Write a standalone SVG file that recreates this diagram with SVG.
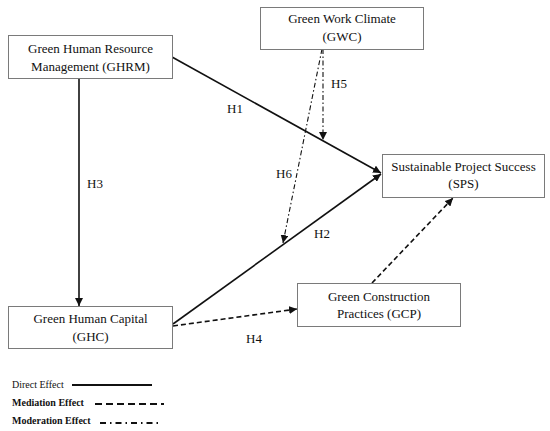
<svg xmlns="http://www.w3.org/2000/svg" width="550" height="431" viewBox="0 0 550 431">
<style>
  .box { fill: #ffffff; stroke: #7a7a7a; stroke-width: 1; }
  .t { font-family: "Liberation Serif", "Times New Roman", serif; font-size: 13px; fill: #111; text-anchor: middle; }
  .lbl { font-family: "Liberation Serif", "Times New Roman", serif; font-size: 13px; fill: #111; text-anchor: middle; }
  .leg { font-family: "Liberation Serif", "Times New Roman", serif; font-size: 10px; fill: #111; }
  .legb { font-family: "Liberation Serif", "Times New Roman", serif; font-size: 10px; fill: #111; font-weight: bold; }
  .direct { stroke: #111; stroke-width: 1.6; fill: none; }
  .med { stroke: #111; stroke-width: 1.6; fill: none; stroke-dasharray: 5 3; }
  .mod { stroke: #111; stroke-width: 1.1; fill: none; stroke-dasharray: 5 2.5 1.5 2.5; }
</style>
<defs>
  <marker id="arr" markerUnits="userSpaceOnUse" markerWidth="10" markerHeight="8" refX="8" refY="4" orient="auto">
    <path d="M0,0 L8,4 L0,8 Z" fill="#111"/>
  </marker>
</defs>
<rect width="550" height="431" fill="#ffffff"/>
<g id="connectors">
  <line class="direct" x1="172" y1="57" x2="381" y2="173" marker-end="url(#arr)"/>
  <line class="direct" x1="173" y1="324" x2="381" y2="174" marker-end="url(#arr)"/>
  <line class="direct" x1="79" y1="78" x2="79" y2="306" marker-end="url(#arr)"/>
  <line class="med" x1="173" y1="326" x2="297" y2="309" marker-end="url(#arr)"/>
  <line class="med" x1="372" y1="283" x2="453" y2="198" marker-end="url(#arr)"/>
  <line class="mod" x1="323" y1="49" x2="323" y2="140" marker-end="url(#arr)"/>
  <line class="mod" x1="322" y1="49" x2="283" y2="243" marker-end="url(#arr)"/>
  <text class="lbl" x="235" y="112.5">H1</text>
  <text class="lbl" x="95" y="187.5">H3</text>
  <text class="lbl" x="339" y="87.5">H5</text>
  <text class="lbl" x="284" y="177.5">H6</text>
  <text class="lbl" x="322" y="237.5">H2</text>
  <text class="lbl" x="254" y="342.5">H4</text>
</g>
<g id="GHRM">
  <rect class="box" x="8.5" y="35.5" width="164" height="43"/>
  <text class="t" x="90.5" y="52.5">Green Human Resource</text>
  <text class="t" x="90.5" y="70.5">Management (GHRM)</text>
</g>
<g id="GWC">
  <rect class="box" x="260.5" y="7.5" width="163" height="42"/>
  <text class="t" x="342" y="22.5">Green Work Climate</text>
  <text class="t" x="342" y="40.5">(GWC)</text>
</g>
<g id="SPS">
  <rect class="box" x="382.5" y="154.5" width="162" height="43"/>
  <text class="t" x="463.5" y="170.5">Sustainable Project Success</text>
  <text class="t" x="463.5" y="187.5">(SPS)</text>
</g>
<g id="GHC">
  <rect class="box" x="8.5" y="306.5" width="164" height="42"/>
  <text class="t" x="90.5" y="322.5">Green Human Capital</text>
  <text class="t" x="90.5" y="340.5">(GHC)</text>
</g>
<g id="GCP">
  <rect class="box" x="297.5" y="283.5" width="163" height="43"/>
  <text class="t" x="379" y="300.5">Green Construction</text>
  <text class="t" x="379" y="317.5">Practices (GCP)</text>
</g>
<g id="legend">
  <text class="leg" x="12" y="388">Direct Effect</text>
  <line x1="72" y1="385" x2="152" y2="385" stroke="#111" stroke-width="2"/>
  <text class="legb" x="12" y="406">Mediation Effect</text>
  <line x1="95" y1="404" x2="164" y2="404" stroke="#111" stroke-width="1.8" stroke-dasharray="7 4"/>
  <text class="legb" x="12" y="424">Moderation Effect</text>
  <line x1="100" y1="423" x2="159" y2="423" stroke="#111" stroke-width="1.8" stroke-dasharray="6 4 1.5 4"/>
</g>
</svg>
